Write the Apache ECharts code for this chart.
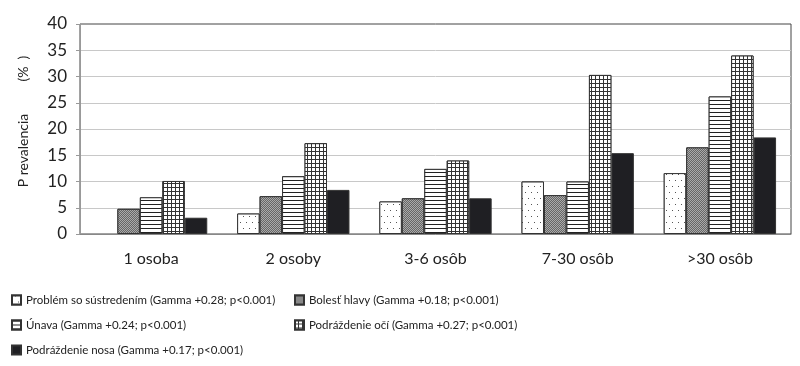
<!DOCTYPE html>
<html>
<head>
<meta charset="utf-8">
<script src="https://cdn.jsdelivr.net/npm/echarts@6/dist/echarts.min.js"></script>
<style>html,body{margin:0;padding:0;background:#fff;}#c{width:800px;height:366px;}</style>
</head>
<body>
<div id="c"></div>
<script>
const categories = ['1 osoba', '2 osoby', '3-6 osôb', '7-30 osôb', '>30 osôb'];
const seriesNames = [
  'Problém so sústredením (Gamma +0.28; p<0.001)',
  'Bolesť hlavy (Gamma +0.18; p<0.001)',
  'Únava (Gamma +0.24; p<0.001)',
  'Podráždenie očí (Gamma +0.27; p<0.001)',
  'Podráždenie nosa (Gamma +0.17; p<0.001)'
];
const problem = [null, 3.9, 6.2, 10.0, 11.6];
const bolest = [4.8, 7.2, 6.8, 7.4, 16.5];
const unava = [7.0, 11.0, 12.4, 10.0, 26.2];
const oci = [10.1, 17.3, 14.0, 30.3, 34.0];
const nosa = [3.1, 8.4, 6.8, 15.4, 18.4];
const yTicks = [0, 5, 10, 15, 20, 25, 30, 35, 40];
const yTitle = 'P revalencia         (%  )';

const values = [problem, bolest, unava, oci, nosa];
const styles = [
  {color: '#ffffff', decal: {symbol: 'rect', symbolSize: 1, color: '#555', backgroundColor: '#fff', dashArrayX: [[1, 5], [0, 3, 1, 2]], dashArrayY: [1, 5], rotation: 0}},
  {color: '#8a8a8a', decal: {symbol: 'rect', symbolSize: 1, color: '#666', backgroundColor: '#aaa', dashArrayX: [[1, 1], [0, 1, 1, 0]], dashArrayY: [1, 0], rotation: 0}},
  {color: '#ffffff', decal: {symbol: 'rect', symbolSize: 1, color: '#222', backgroundColor: '#fff', dashArrayX: [1, 0], dashArrayY: [1, 3], rotation: 0}},
  {color: '#ffffff', decal: {symbol: 'rect', symbolSize: 1, color: '#fff', backgroundColor: '#333', dashArrayX: [3, 1], dashArrayY: [3, 1], rotation: 0}},
  {color: '#1f1f23', decal: null}
];

const chart = echarts.init(document.getElementById('c'), null, {renderer: 'canvas'});
const baseFont = 'Lato, Carlito, "Open Sans", sans-serif';

const series = seriesNames.map((n, i) => {
  const st = {color: styles[i].color, borderColor: '#333', borderWidth: 1};
  if (styles[i].decal) st.decal = styles[i].decal;
  return {
    name: n, type: 'bar', data: values[i],
    barGap: '0%', barCategoryGap: '21%',
    itemStyle: st, emphasis: {disabled: true}, animation: false
  };
});

const legendCommon = {
  orient: 'vertical', itemWidth: 9, itemHeight: 9, itemGap: 11, padding: 0,
  icon: 'rect', height: 80,
  textStyle: {fontFamily: baseFont, fontSize: 11.5, color: '#222', lineHeight: 14},
  selectedMode: false
};

chart.setOption({
  animation: false,
  grid: {left: 80, right: 9, top: 24, bottom: 132, show: true, borderColor: '#444', borderWidth: 1},
  legend: [
    Object.assign({left: 11, top: 293, data: [seriesNames[0], seriesNames[2], seriesNames[4]]}, legendCommon),
    Object.assign({left: 294, top: 293, data: [seriesNames[1], seriesNames[3]]}, legendCommon)
  ],
  xAxis: {
    type: 'category', data: categories,
    axisLine: {lineStyle: {color: '#888'}},
    axisTick: {show: false},
    axisLabel: {fontFamily: baseFont, fontSize: 16, color: '#222', margin: 17}
  },
  yAxis: {
    type: 'value', min: yTicks[0], max: yTicks[yTicks.length - 1], interval: 5,
    name: yTitle, nameLocation: 'middle', nameGap: 50, nameRotate: 90,
    nameTextStyle: {fontFamily: baseFont, fontSize: 14, color: '#222', padding: [0, 0, 0, 15]},
    axisLine: {show: true, lineStyle: {color: '#999'}},
    axisTick: {show: true, length: 4, lineStyle: {color: '#999'}},
    axisLabel: {fontFamily: baseFont, fontSize: 17, color: '#222', margin: 13},
    splitLine: {showMaxLine: false, lineStyle: {color: '#c8c8c8'}}
  },
  series: series
});
</script>
</body>
</html>
